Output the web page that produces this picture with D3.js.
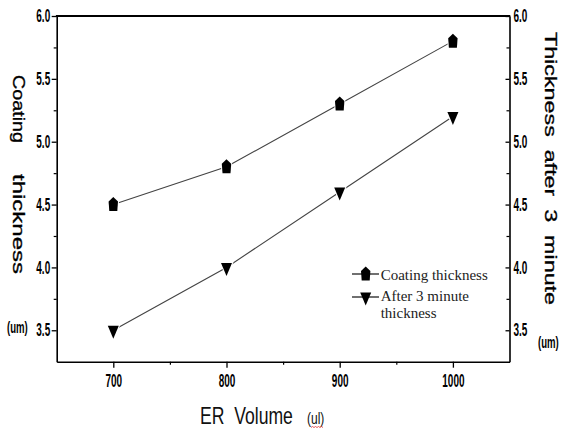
<!DOCTYPE html>
<html><head><meta charset="utf-8">
<script src="https://cdn.jsdelivr.net/npm/d3@7"></script>
<style>
body{margin:0;background:#fff}
svg{display:block}
.narrow{font-family:"Liberation Sans",Arial,sans-serif}
</style></head><body><svg id="c" width="564" height="429"></svg>
<script>
// ---- data ----
const volumes = [700, 800, 900, 1000];
const coatingThickness = [4.5, 4.8, 5.3, 5.8];
const afterThreeMinute = [3.5, 4.0, 4.6, 5.2];
const xMajorTicks = [700, 800, 900, 1000];
const xMinorTicks = [750, 850, 950];
const yMajorTicks = [3.5, 4.0, 4.5, 5.0, 5.5, 6.0];
const yMinorTicks = [3.75, 4.25, 4.75, 5.25, 5.75];
const xDomain = [650, 1050];
const yDomain = [3.25, 6.0];
const legendLabels = [["Coating thickness"], ["After 3 minute", "thickness"]];
const xTitle = "ER  Volume";
const xUnit = "(ul)";
const leftTitleWords = ["Coating", "thickness"];
const rightTitle = "Thickness  after  3  minute";
const unitLabel = "(um)";

// ---- layout ----
const L = 56.7, R = 509.5, T = 16, B = 361.7;
const SX = 0.8, SY = 1.4; // condensed, tall glyph look
const svg = d3.select("#c");
const x = d3.scaleLinear().domain(xDomain).range([L, R]);
const y = d3.scaleLinear().domain(yDomain).range([B, T]);

const pentagon = {draw(c){c.moveTo(0,-7.5);c.lineTo(4.7,-3);c.lineTo(4,6.5);c.lineTo(-4,6.5);c.lineTo(-4.7,-3);c.closePath();}};
const triDown = {draw(c){c.moveTo(-5.5,-4.5);c.lineTo(5.5,-4.5);c.lineTo(0,8.5);c.closePath();}};

function styleTicks(g){
  g.selectAll("text").attr("class","narrow").attr("font-size",12.5).attr("font-weight","bold").attr("fill","#000");
  g.selectAll("line").attr("stroke","#000").attr("stroke-width",1.3);
  g.select(".domain").attr("stroke","#000").attr("stroke-width",1.6);
}
function minor(g){
  g.select(".domain").remove();
  g.selectAll("line").attr("stroke","#000").attr("stroke-width",1.2);
}

// bottom axis
const gb = svg.append("g").attr("transform",`translate(0,${B})`)
  .call(d3.axisBottom(x).tickValues(xMajorTicks).tickSize(6).tickSizeOuter(0).tickFormat(d3.format("d")));
styleTicks(gb);
gb.selectAll("text").attr("y",17.9).attr("dy",0).attr("transform",`scale(${SX},${SY})`);
minor(svg.append("g").attr("transform",`translate(0,${B})`)
  .call(d3.axisBottom(x).tickValues(xMinorTicks).tickSize(3).tickFormat("")));

// left axis
const gl = svg.append("g").attr("transform",`translate(${L},0)`)
  .call(d3.axisLeft(y).tickValues(yMajorTicks).tickSize(5).tickSizeOuter(0).tickPadding(2).tickFormat(d3.format(".1f")));
styleTicks(gl);
gl.selectAll("text").attr("x",-6.5/SX).attr("transform",`scale(${SX},${SY})`);
minor(svg.append("g").attr("transform",`translate(${L},0)`)
  .call(d3.axisLeft(y).tickValues(yMinorTicks).tickSize(3).tickFormat("")));

// right axis (ticks inward)
const gr = svg.append("g").attr("transform",`translate(${R},0)`)
  .call(d3.axisRight(y).tickValues(yMajorTicks).tickSizeInner(-4).tickSizeOuter(0).tickPadding(4).tickFormat(d3.format(".1f")));
styleTicks(gr);
gr.selectAll("text").attr("x",4/SX).attr("transform",`scale(${SX},${SY})`);
minor(svg.append("g").attr("transform",`translate(${R},0)`)
  .call(d3.axisRight(y).tickValues(yMinorTicks).tickSize(-3).tickFormat("")));

// top border
svg.append("line").attr("x1",L-0.8).attr("x2",R+0.8).attr("y1",T).attr("y2",T)
  .attr("stroke","#000").attr("stroke-width",2);

// series
const series = [
  {vals: coatingThickness, sym: pentagon},
  {vals: afterThreeMinute, sym: triDown}
];
const line = d3.line().x(d=>x(d[0])).y(d=>y(d[1]));
series.forEach(s=>{
  const pts = volumes.map((v,i)=>[v,s.vals[i]]);
  svg.append("path").attr("d",line(pts)).attr("fill","none").attr("stroke","#444").attr("stroke-width",1.1);
  svg.selectAll(null).data(pts).enter().append("path")
    .attr("d",d3.symbol().type(s.sym)())
    .attr("transform",d=>`translate(${x(d[0])},${y(d[1])})`)
    .attr("fill","#000").attr("stroke","#fff").attr("stroke-width",2).style("paint-order","stroke");
});

// legend
const legRows = [{y:274, sym:pentagon}, {y:297, sym:triDown}];
legRows.forEach((r,i)=>{
  svg.append("line").attr("x1",352).attr("x2",379).attr("y1",r.y).attr("y2",r.y).attr("stroke","#222").attr("stroke-width",1.3);
  svg.append("path").attr("d",d3.symbol().type(r.sym)()).attr("transform",`translate(365.7,${r.y})`).attr("fill","#000");
  legendLabels[i].forEach((t,j)=>{
    svg.append("text").attr("x",380.7).attr("y",(i===0?279.5:301)+j*17)
      .attr("font-family","'Liberation Serif','Times New Roman',serif").attr("font-size",15).attr("fill","#222").text(t);
  });
});

// x title
svg.append("text").attr("class","narrow").attr("transform",`translate(200,424) scale(${SX},1.08)`)
  .attr("font-size",22).attr("fill","#111").style("white-space","pre").text(xTitle);
svg.append("text").attr("class","narrow").attr("transform",`translate(307,424) scale(${SX},1.15)`)
  .attr("font-size",15).attr("fill","#111").text(xUnit);
svg.append("path").attr("d","M311,427.5 l1.5,-1 l1.5,1 l1.5,-1 l1.5,1 l1.5,-1 l1.5,1 l1.5,-1 l1.5,1")
  .attr("fill","none").attr("stroke","#e03030").attr("stroke-width",0.8);

// left title (rotated, reading top to bottom)
const leftSpans = [[75,143],[174,274]];
leftTitleWords.forEach((w,i)=>{
  const [a,b] = leftSpans[i];
  svg.append("text").attr("class","narrow")
    .attr("transform",`translate(12.7,${(a+b)/2}) rotate(90)`)
    .attr("text-anchor","middle").attr("font-size",16).attr("fill","#000")
    .attr("stroke","#000").attr("stroke-width",0.3)
    .attr("textLength",b-a).attr("lengthAdjust","spacingAndGlyphs").text(w);
});
// right title
svg.append("text").attr("class","narrow")
  .attr("transform",`translate(545,${(32+305)/2}) rotate(90)`)
  .attr("text-anchor","middle").attr("font-size",16).attr("fill","#000").style("white-space","pre")
  .attr("stroke","#000").attr("stroke-width",0.3)
  .attr("textLength",273).attr("lengthAdjust","spacingAndGlyphs").text(rightTitle);

// unit labels
[[7,333],[538,348]].forEach(p=>{
  svg.append("text").attr("class","narrow").attr("transform",`translate(${p[0]},${p[1]}) scale(${SX},${SY})`)
    .attr("font-size",12).attr("font-weight","bold").attr("fill","#000").text(unitLabel);
});
</script></body></html>
